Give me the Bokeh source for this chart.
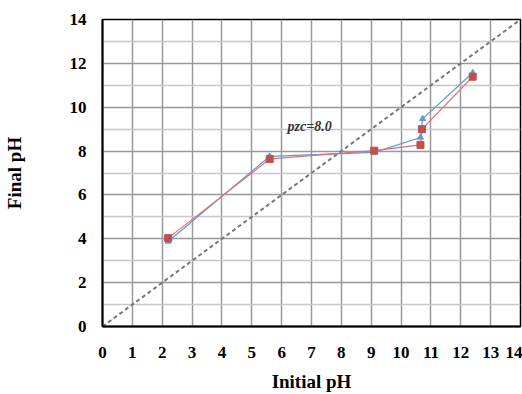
from bokeh.plotting import figure
from bokeh.models import FixedTicker, Range1d, Grid, Label
from bokeh.embed import file_html
from bokeh.resources import INLINE

# data
blue_x = [2.2, 5.6, 9.1, 10.65, 10.72, 12.4]
blue_y = [3.88, 7.76, 7.94, 8.62, 9.47, 11.57]
red_x = [2.2, 5.6, 9.1, 10.65, 10.7, 12.4]
red_y = [4.03, 7.64, 8.02, 8.28, 9.0, 11.39]
diag_x = [0, 14]
diag_y = [0, 14]
x_ticks = list(range(0, 15))
y_ticks = list(range(0, 15, 2))
y_minor = list(range(1, 15, 2))
pzc_text = "pzc=8.0"

p = figure(width=522, height=394, output_backend="svg", toolbar_location=None,
           x_range=Range1d(0, 14), y_range=Range1d(0, 14),
           min_border_left=101, min_border_right=2, min_border_top=19, min_border_bottom=66)
p.outline_line_color = "black"
p.outline_line_width = 1.5

FONT = "Liberation Serif"
for ax in (p.xaxis[0], p.yaxis[0]):
    ax.axis_line_color = "black"
    ax.axis_line_width = 2
    ax.major_tick_line_color = None
    ax.minor_tick_line_color = None
    ax.major_label_text_font = FONT
    ax.major_label_text_font_style = "bold"
    ax.major_label_text_font_size = "17px"
    ax.major_label_text_color = "black"
    ax.axis_label_text_font = FONT
    ax.axis_label_text_font_style = "bold"
    ax.axis_label_text_font_size = "19px"
    ax.axis_label_text_color = "black"

p.xaxis.ticker = FixedTicker(ticks=x_ticks)
p.yaxis.ticker = FixedTicker(ticks=y_ticks)
p.xaxis.axis_label = "Initial pH"
p.yaxis.axis_label = "Final pH"
p.xaxis.major_label_standoff = 14
p.yaxis.major_label_standoff = 10
p.xaxis.axis_label_standoff = 10
p.yaxis.axis_label_standoff = 42

p.xgrid.ticker = FixedTicker(ticks=x_ticks)
p.xgrid.grid_line_color = "#999999"
p.xgrid.grid_line_width = 1.5
p.ygrid.ticker = FixedTicker(ticks=y_ticks)
p.ygrid.grid_line_color = "#999999"
p.ygrid.grid_line_width = 1.5
g2 = Grid(dimension=1, ticker=FixedTicker(ticks=y_minor), grid_line_color="#c8c8c8", grid_line_width=1.5)
p.add_layout(g2)

p.line(diag_x, diag_y, line_color="#777777", line_dash="4 3", line_width=2)

p.line(blue_x, blue_y, line_color="#5b9bd5", line_width=1.2)
p.scatter(blue_x, blue_y, marker="triangle", size=6, fill_color="#5b9bd5", line_color="#5b9bd5")
p.line(red_x, red_y, line_color="#e07070", line_width=1.2)
p.scatter(red_x, red_y, marker="square", size=7, fill_color="#c0504d", line_color="#c0504d")

p.add_layout(Label(x=6.2, y=8.8, text=pzc_text, text_font=FONT, text_font_style="bold italic",
                   text_font_size="14px", text_color="#333333"))

open("out.html", "w").write(file_html(p, INLINE))
